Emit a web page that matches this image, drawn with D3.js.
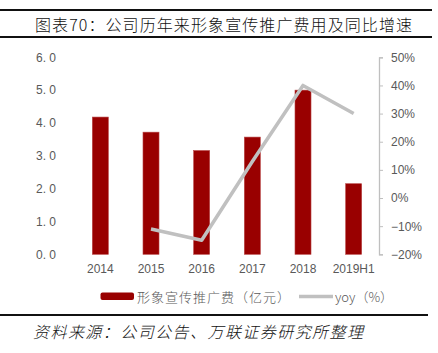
<!DOCTYPE html>
<html>
<head>
<meta charset="utf-8">
<script src="https://cdn.jsdelivr.net/npm/d3@7"></script>
<style>
  body { margin: 0; background: #fff; }
  svg { display: block; }
</style>
</head>
<body>
<svg id="chart"></svg>
<script>
const width = 438;
const height = 353;

// Data
const categories = ["2014", "2015", "2016", "2017", "2018", "2019H1"];
const spend = [4.18, 3.72, 3.16, 3.57, 5.0, 2.15];       // 形象宣传推广费（亿元）
const yoy = [null, -11, -15, 13, 40, 30];                 // yoy（%）
const leftTicks = [0, 1, 2, 3, 4, 5, 6];
const rightTicks = [-20, -10, 0, 10, 20, 30, 40, 50];

const titleText = "图表70：公司历年来形象宣传推广费用及同比增速";
const sourceText = "资料来源：公司公告、万联证券研究所整理";
const legendBar = "形象宣传推广费（亿元）";
const legendLine = "yoy（%）";

const barColor = "#990000";
const lineColor = "#c0c0c0";
const tickColor = "#595959";
const cjk = "'Noto Sans CJK SC', sans-serif";
const latin = "'Liberation Sans', Arial, sans-serif";

const svg = d3.select("#chart")
  .attr("width", width)
  .attr("height", height);

// Plot area
const plotLeft = 75, plotRight = 379;
const plotTop = 57.3, plotBottom = 254.3;

const x = d3.scaleBand()
  .domain(categories)
  .range([plotLeft, plotRight])
  .paddingInner(0.684)
  .paddingOuter(0.342);

const yLeft = d3.scaleLinear().domain([0, 6]).range([plotBottom, plotTop]);
const yRight = d3.scaleLinear().domain([-20, 50]).range([plotBottom, plotTop]);

// Header rules and title
svg.append("line").attr("x1", 0).attr("x2", 432).attr("y1", 10).attr("y2", 10)
  .attr("stroke", "#111").attr("stroke-width", 2);
svg.append("line").attr("x1", 0).attr("x2", 432).attr("y1", 37).attr("y2", 37)
  .attr("stroke", "#111").attr("stroke-width", 2);
svg.append("text")
  .attr("x", 35).attr("y", 24)
  .attr("dominant-baseline", "central")
  .style("font-family", cjk).style("font-size", "16px")
  .style("font-weight", 300)
  .attr("textLength", 377).attr("lengthAdjust", "spacing")
  .attr("fill", "#111")
  .text(titleText);

// Bars
svg.append("g")
  .selectAll("rect")
  .data(categories)
  .join("rect")
  .attr("x", d => x(d))
  .attr("width", x.bandwidth())
  .attr("y", (d, i) => yLeft(spend[i]))
  .attr("height", (d, i) => plotBottom - yLeft(spend[i]))
  .attr("fill", barColor)
  .attr("stroke", "#b84444")
  .attr("stroke-width", 0.6);

// yoy line
const linePoints = categories
  .map((c, i) => ({ c, v: yoy[i] }))
  .filter(d => d.v !== null);

svg.append("path")
  .datum(linePoints)
  .attr("fill", "none")
  .attr("stroke", lineColor)
  .attr("stroke-width", 3.5)
  .attr("stroke-linejoin", "round")
  .attr("d", d3.line()
    .x(d => x(d.c) + x.bandwidth() / 2)
    .y(d => yRight(d.v)));

// Left axis (labels only)
const leftAxis = svg.append("g")
  .attr("transform", `translate(${plotLeft - 19},0)`)
  .call(d3.axisLeft(yLeft)
    .tickValues(leftTicks)
    .tickSize(0)
    .tickPadding(0)
    .tickFormat(d => d.toFixed(1).replace(".", ". ")));
leftAxis.select(".domain").remove();
leftAxis.selectAll("text")
  .style("font-family", latin).style("font-size", "12px")
  .attr("fill", tickColor);

// Right axis
const rightAxis = svg.append("g")
  .attr("transform", `translate(${plotRight},0)`)
  .call(d3.axisRight(yRight)
    .tickValues(rightTicks)
    .tickSize(4)
    .tickSizeOuter(4)
    .tickPadding(8)
    .tickFormat(d => (d < 0 ? "\u2212" + Math.abs(d) : d) + "%"));
rightAxis.select(".domain").attr("stroke", "#bfbfbf").attr("stroke-width", 1.3);
rightAxis.selectAll(".tick line").attr("stroke", "#bfbfbf");
rightAxis.selectAll("text")
  .style("font-family", latin).style("font-size", "12px")
  .attr("fill", tickColor);

// X axis labels
const xAxis = svg.append("g")
  .attr("transform", `translate(0,${plotBottom})`)
  .call(d3.axisBottom(x).tickSize(0).tickPadding(10));
xAxis.select(".domain").remove();
xAxis.selectAll("text")
  .style("font-family", latin).style("font-size", "12px")
  .attr("fill", tickColor);

// Legend
const legend = svg.append("g");
legend.append("rect")
  .attr("x", 100.5).attr("y", 292.5).attr("width", 33.5).attr("height", 7.5)
  .attr("rx", 2).attr("fill", barColor);
legend.append("text")
  .attr("x", 137).attr("y", 296.5)
  .attr("dominant-baseline", "central")
  .style("font-family", cjk).style("font-size", "13px")
  .style("font-weight", 300)
  .attr("textLength", 153).attr("lengthAdjust", "spacing")
  .attr("fill", tickColor)
  .text(legendBar);
legend.append("line")
  .attr("x1", 299).attr("x2", 333).attr("y1", 296.5).attr("y2", 296.5)
  .attr("stroke", lineColor).attr("stroke-width", 3.5);
legend.append("text")
  .attr("x", 335).attr("y", 296.5)
  .attr("dominant-baseline", "central")
  .style("font-family", cjk).style("font-size", "13px")
  .style("font-weight", 300)
  .attr("fill", tickColor)
  .text(legendLine);

// Footer rule and source
svg.append("line").attr("x1", 0).attr("x2", 428).attr("y1", 315).attr("y2", 315)
  .attr("stroke", "#111").attr("stroke-width", 2);
svg.append("text")
  .attr("x", 33).attr("y", 331)
  .attr("dominant-baseline", "central")
  .style("font-family", cjk).style("font-size", "16px")
  .style("font-style", "italic")
  .style("font-weight", 300)
  .attr("textLength", 330).attr("lengthAdjust", "spacing")
  .attr("fill", "#111")
  .text(sourceText);
</script>
</body>
</html>
